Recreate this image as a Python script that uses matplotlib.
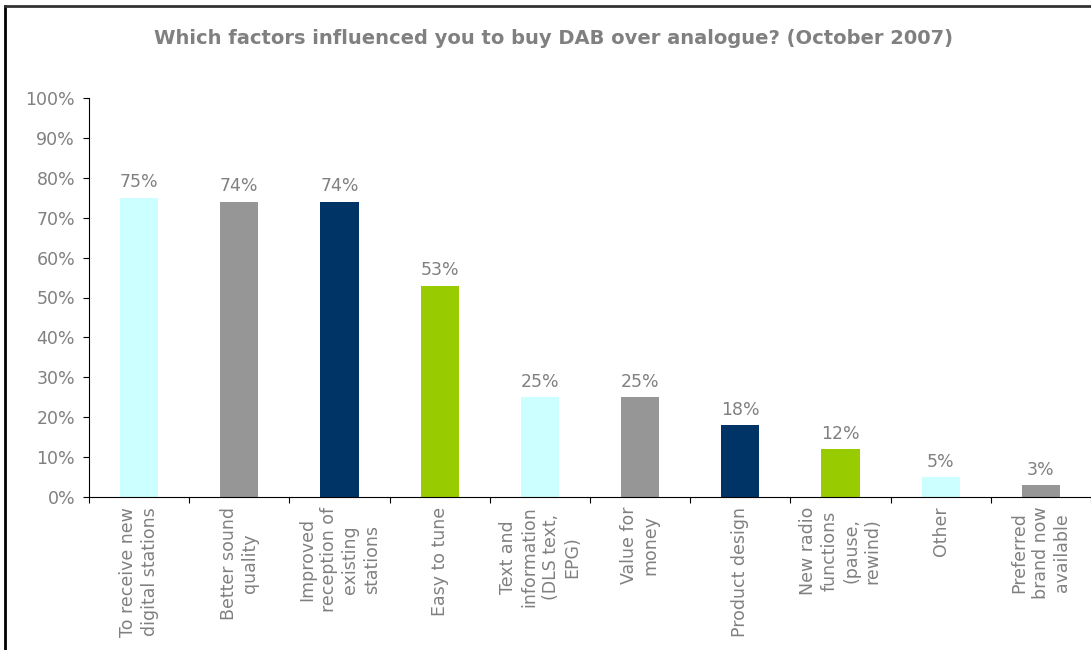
import numpy as np
import matplotlib
matplotlib.use('Agg')
import matplotlib.pyplot as plt
from matplotlib.ticker import FuncFormatter

categories = ['To receive new\ndigital stations', 'Better sound\nquality',
              'Improved\nreception of\nexisting\nstations', 'Easy to tune',
              'Text and\ninformation\n(DLS text,\nEPG)', 'Value for\nmoney',
              'Product design', 'New radio\nfunctions\n(pause,\nrewind)',
              'Other', 'Preferred\nbrand now\navailable']
values = [75, 74, 74, 53, 25, 25, 18, 12, 5, 3]
colors = ['#CCFFFF', '#969696', '#003366', '#99CC00',
          '#CCFFFF', '#969696', '#003366', '#99CC00',
          '#CCFFFF', '#969696']

grey = '#808080'

fig = plt.figure(figsize=(10.91, 6.5), dpi=100)
ax = fig.add_axes([89/1091, 1 - 497/650, 1 - 89/1091, (497 - 98)/650])

x = np.arange(len(values))
ax.bar(x, values, width=0.38, color=colors)
for xi, v in zip(x, values):
    ax.text(xi, v + 1.6, '%d%%' % v, ha='center', va='bottom', color=grey, fontsize=12.5)

ax.set_xlim(-0.5, len(values) - 0.5)
ax.set_ylim(0, 100)
ax.set_yticks(np.arange(0, 101, 10))
ax.yaxis.set_major_formatter(FuncFormatter(lambda v, p: '%d%%' % v))
# category boundaries get the tick marks, centres get the labels
ax.set_xticks(np.arange(-0.5, len(values), 1.0), minor=False)
ax.set_xticklabels([])
ax.set_xticks(x, minor=True)
ax.set_xticklabels(categories, minor=True, rotation=90, va='top', ha='center',
                   multialignment='center', color=grey, fontsize=12.5, linespacing=1.25)
ax.tick_params(axis='x', which='minor', length=0, pad=7)
ax.tick_params(axis='x', which='major', length=4, direction='out')
ax.tick_params(axis='y', length=4, labelcolor=grey, labelsize=12.5, pad=6)

for s in ['top', 'right']:
    ax.spines[s].set_visible(False)

fig.text(553/1091, 1 - 38/650, 'Which factors influenced you to buy DAB over analogue? (October 2007)',
         ha='center', va='center', color=grey, fontsize=14, fontweight='bold')

# frame lines of the slide
fig.add_artist(plt.Line2D([5/1091, 5/1091], [0, 1 - 6/650], color='black', lw=2))
fig.add_artist(plt.Line2D([5/1091, 1], [1 - 6/650, 1 - 6/650], color='#333333', lw=2))

fig.savefig('out.png', dpi=100)
